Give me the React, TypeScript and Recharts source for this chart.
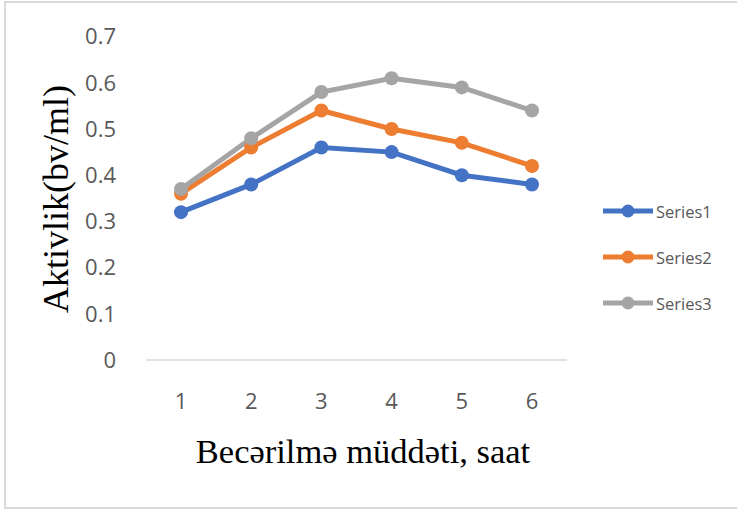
import { Label, Legend, Line, LineChart, XAxis, YAxis } from "recharts";

const hours = ["1", "2", "3", "4", "5", "6"];
const series1 = [0.32, 0.38, 0.46, 0.45, 0.4, 0.38];
const series2 = [0.36, 0.46, 0.54, 0.5, 0.47, 0.42];
const series3 = [0.37, 0.48, 0.58, 0.61, 0.59, 0.54];
const yTicks = [0, 0.1, 0.2, 0.3, 0.4, 0.5, 0.6, 0.7];

const SERIES = [
	{ key: "Series1", values: series1, color: "#4472C4" },
	{ key: "Series2", values: series2, color: "#ED7D31" },
	{ key: "Series3", values: series3, color: "#A5A5A5" },
];

const data = hours.map((h, i) => {
	const row: Record<string, string | number> = { name: h };
	SERIES.forEach((s) => {
		row[s.key] = s.values[i];
	});
	return row;
});

const tickStyle = { fontFamily: "Open Sans", fontSize: 22, fill: "#595959" };

function LegendBox() {
	return (
		<div>
			{SERIES.map((s) => (
				<div
					key={s.key}
					style={{ display: "flex", alignItems: "center", height: 46 }}
				>
					<svg width={52} height={16}>
						<line x1={1} y1={8} x2={51} y2={8} stroke={s.color} strokeWidth={5} />
						<circle cx={26} cy={8} r={6.5} fill={s.color} />
					</svg>
					<span
						style={{
							fontFamily: "Open Sans",
							fontSize: 16.5,
							color: "#595959",
							marginLeft: 2,
						}}
					>
						{s.key}
					</span>
				</div>
			))}
		</div>
	);
}

export default function App() {
	return (
		<div
			style={{
				position: "absolute",
				left: 0,
				top: 0,
				width: 737,
				height: 510,
				background: "#fff",
				overflow: "hidden",
			}}
		>
			<div
				style={{
					position: "absolute",
					left: 4,
					top: 1,
					width: 745,
					height: 508,
					border: "2px solid #d9d9d9",
					boxSizing: "border-box",
				}}
			/>
			<LineChart
				width={737}
				height={510}
				data={data}
				margin={{ top: 36.6, right: 170, left: 0, bottom: 0 }}
				style={{ position: "absolute", left: 0, top: 0 }}
			>
				<XAxis
					dataKey="name"
					height={150}
					padding={{ left: 35, right: 35 }}
					tickSize={0}
					tickMargin={33}
					axisLine={{ stroke: "#d9d9d9", strokeWidth: 1.5 }}
					tick={tickStyle}
				>
					<Label
						content={() => (
							<text
								x={363}
								y={463}
								textAnchor="middle"
								fontFamily="Liberation Serif"
								fontSize={34.5}
								fill="#000"
							>
								Becərilmə müddəti, saat
							</text>
						)}
					/>
				</XAxis>
				<YAxis
					width={146}
					domain={[0, 0.7]}
					ticks={yTicks}
					interval={0}
					tickSize={0}
					tickMargin={30}
					axisLine={false}
					tick={tickStyle}
				>
					<Label
						content={() => (
							<text
								x={68}
								y={199}
								transform="rotate(-90 68 199)"
								textAnchor="middle"
								fontFamily="Liberation Serif"
								fontSize={36}
								fill="#000"
							>
								Aktivlik(bv/ml)
							</text>
						)}
					/>
				</YAxis>
				<Legend
					layout="vertical"
					align="center"
					verticalAlign="middle"
					content={() => <LegendBox />}
					wrapperStyle={{ position: "absolute", left: 602, top: 188, width: 130 }}
				/>
				{SERIES.map((s) => (
					<Line
						key={s.key}
						dataKey={s.key}
						stroke={s.color}
						strokeWidth={5}
						dot={{ r: 7, fill: s.color, stroke: s.color, strokeWidth: 0 }}
						activeDot={false}
						isAnimationActive={false}
					/>
				))}
			</LineChart>
		</div>
	);
}
